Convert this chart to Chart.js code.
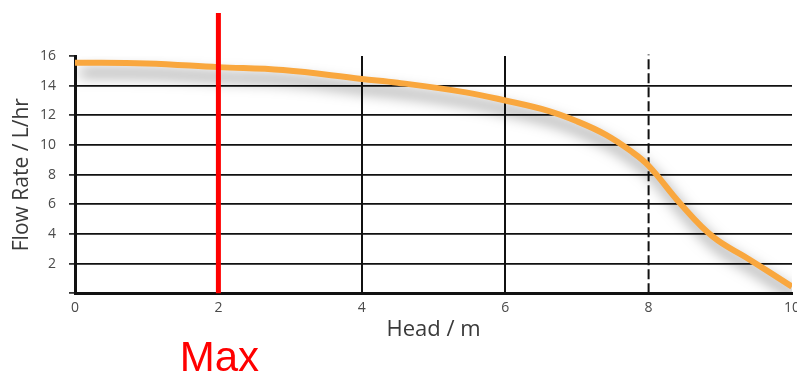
<!DOCTYPE html>
<html>
<head>
<meta charset="utf-8">
<script src="https://cdn.jsdelivr.net/npm/chart.js@4/dist/chart.umd.min.js"></script>
<style>
  html, body { margin: 0; padding: 0; background: #fff; overflow: hidden; width: 797px; height: 376px; }
  #wrap { position: absolute; left: 0; top: 0; width: 806px; height: 376px; }
</style>
</head>
<body>
<div id="wrap"><canvas id="c"></canvas></div>
<script>
// ---- data ----
const heads = [0, 1, 2, 2.9, 4, 4.5, 5.45, 6, 6.6, 7.0, 7.4, 7.75, 8, 8.45, 8.9, 9.4, 10];
const flows = [15.55, 15.5, 15.25, 15.05, 14.45, 14.2, 13.55, 13.0, 12.3, 11.6, 10.7, 9.6, 8.6, 6.0, 3.8, 2.3, 0.45];
const xTicks = [0, 2, 4, 6, 8, 10];
const yTicks = [0, 2, 4, 6, 8, 10, 12, 14, 16];
const maxHead = 2;          // red "Max" marker position
const dashedHead = 8;       // dashed reference line
const solidGridHeads = [4, 6];
const xTitle = 'Head / m';
const yTitle = 'Flow Rate / L/hr';
const maxLabel = 'Max';

const curve = heads.map((h, i) => ({ x: h, y: flows[i] }));

const shadowPlugin = {
  id: 'curveShadow',
  beforeDatasetDraw(chart, args) {
    if (chart.data.datasets[args.index].label !== 'curve') return;
    const ctx = chart.ctx;
    ctx.save();
    ctx.shadowColor = 'rgba(0,0,0,0.5)';
    ctx.shadowBlur = 14;
    ctx.shadowOffsetX = 5;
    ctx.shadowOffsetY = 10;
  },
  afterDatasetDraw(chart, args) {
    if (chart.data.datasets[args.index].label !== 'curve') return;
    chart.ctx.restore();
  }
};

const maxTextPlugin = {
  id: 'maxText',
  afterDraw(chart) {
    const ctx = chart.ctx;
    const xs = chart.scales.x;
    ctx.save();
    ctx.font = '42px "Liberation Sans", Arial, sans-serif';
    ctx.fillStyle = '#ff0000';
    ctx.textAlign = 'center';
    ctx.textBaseline = 'alphabetic';
    ctx.fillText(maxLabel, xs.getPixelForValue(maxHead) + 1, 371);
    ctx.restore();
  }
};

new Chart(document.getElementById('c'), {
  type: 'line',
  data: {
    datasets: [
      {
        label: 'max',
        data: [{ x: maxHead, y: 0 }, { x: maxHead, y: 18.9 }],
        borderColor: '#ff0000',
        borderWidth: 5,
        pointRadius: 0,
        clip: false,
        borderCapStyle: 'butt'
      },
      {
        label: 'curve',
        data: curve,
        borderColor: '#f9a73e',
        borderWidth: 6,
        pointRadius: 0,
        tension: 0.4,
        borderCapStyle: 'butt'
      },
      {
        label: 'dashed',
        data: [{ x: dashedHead, y: 0 }, { x: dashedHead, y: 16.1 }],
        borderColor: '#111',
        borderWidth: 2,
        borderDash: [10, 4],
        pointRadius: 0,
        clip: false
      }
    ]
  },
  options: {
    responsive: true,
    maintainAspectRatio: false,
    animation: false,
    layout: { padding: { top: 56, left: 0, right: 0, bottom: 0 } },
    plugins: { legend: { display: false }, tooltip: { enabled: false } },
    scales: {
      x: {
        type: 'linear',
        min: 0, max: 10,
        afterBuildTicks: s => { s.ticks = xTicks.map(v => ({ value: v })); },
        afterFit: s => { s.height = 82.7; },
        ticks: { color: '#4a4a4a', font: { family: 'Open Sans', size: 14 }, padding: 6, maxRotation: 0 },
        grid: {
          drawTicks: false,
          lineWidth: 2,
          color: c => (c.tick && solidGridHeads.includes(c.tick.value)) ? '#111' : 'rgba(0,0,0,0)'
        },
        border: { display: true, color: '#111', width: 3 },
        title: {
          display: true, text: xTitle, color: '#3a3a3a',
          font: { family: 'Open Sans', size: 22 }, padding: { top: 0, bottom: 33 }
        }
      },
      y: {
        min: 0, max: 16,
        afterBuildTicks: s => { s.ticks = yTicks.map(v => ({ value: v })); },
        afterFit: s => { s.width = 75; },
        ticks: {
          color: '#4a4a4a', font: { family: 'Open Sans', size: 14 }, padding: 13,
          callback: v => (v === 0 ? '' : String(v))
        },
        grid: {
          drawTicks: true,
          tickLength: 6,
          tickColor: '#333',
          lineWidth: 1.8,
          color: c => (c.tick && c.tick.value > 0 && c.tick.value < 16) ? '#111' : 'rgba(0,0,0,0)'
        },
        border: { display: true, color: '#111', width: 3 },
        title: {
          display: true, text: yTitle, color: '#3a3a3a',
          font: { family: 'Open Sans', size: 21 }, padding: { top: 9, bottom: 0 }
        }
      }
    }
  },
  plugins: [shadowPlugin, maxTextPlugin]
});
</script>
</body>
</html>
